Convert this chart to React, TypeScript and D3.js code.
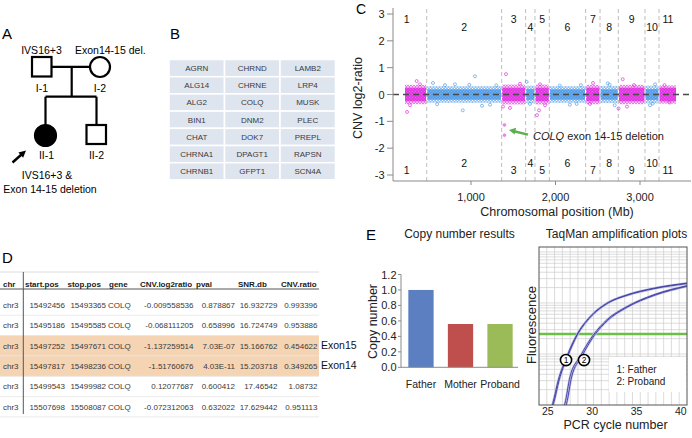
import React from "react";
import * as d3 from "d3";

const FONT = "'Liberation Sans', Arial, Helvetica, sans-serif";

// ---------- Panel A : pedigree ----------
const parentNotes = ["IVS16+3", "Exon14-15 del."];
const pedigreeIds = ["I-1", "I-2", "II-1", "II-2"];
const probandNotes = ["IVS16+3 &", "Exon 14-15 deletion"];

// ---------- Panel B : gene panel ----------
const geneCol1 = ["AGRN", "ALG14", "ALG2", "BIN1", "CHAT", "CHRNA1", "CHRNB1"];
const geneCol2 = ["CHRND", "CHRNE", "COLQ", "DNM2", "DOK7", "DPAGT1", "GFPT1"];
const geneCol3 = ["LAMB2", "LRP4", "MUSK", "PLEC", "PREPL", "RAPSN", "SCN4A"];

// ---------- Panel C : CNV plot ----------
const chromNames = ["1", "2", "3", "4", "5", "6", "7", "8", "9", "10", "11"];
const chromBoundsMb = [0, 476, 1363, 1647, 1757, 1927, 2357, 2527, 2743, 3059, 3225, 3434];
const firstProbeMb = 219;
const coreSpread = [0.25, 0.19, 0.25, 0.2, 0.25, 0.19, 0.25, 0.19, 0.25, 0.2, 0.25];
const outerSpread = [0.36, 0.31, 0.37, 0.33, 0.37, 0.31, 0.36, 0.32, 0.36, 0.33, 0.34];
const outlierMb = [357, 243, 396, 278, 550, 902, 1047, 692, 1225, 811, 1414, 1379, 1580, 1461, 1659, 1698, 1805, 1781, 1876, 1817, 2170, 2300, 2444, 2408, 2618, 2701, 2795, 2746, 2929, 2846, 3118, 3178, 3290, 3349, 600, 980, 1130, 1300, 2050, 2250, 2640, 3150];
const outlierLog2 = [0.5, -0.65, 0.38, -0.4, 0.43, -0.59, 0.68, 0.35, -0.38, 0.38, 0.76, -0.45, 0.4, -0.5, 0.47, -0.35, -0.59, -0.77, -0.4, 0.38, -0.38, 0.35, 0.43, -0.35, 0.42, -0.4, 0.57, -0.52, 0.35, -0.45, -0.4, 0.38, 0.35, -0.3, -0.36, 0.36, -0.42, 0.34, 0.33, -0.35, 0.36, -0.34];
const deletionMb = 1396;
const deletionLog2 = [-1.137, -1.518];
const yTicksC = [-3, -2, -1, 0, 1, 2, 3];
const xTicksC = [1000, 2000, 3000];

// ---------- Panel D : table ----------
const dHeaders = ["chr", "start.pos", "stop.pos", "gene", "CNV.log2ratio", "pval", "SNR.db", "CNV.ratio"];
const dChr = ["chr3", "chr3", "chr3", "chr3", "chr3", "chr3"];
const dStart = ["15492456", "15495186", "15497252", "15497817", "15499543", "15507698"];
const dStop = ["15493365", "15495585", "15497671", "15498236", "15499982", "15508087"];
const dGene = ["COLQ", "COLQ", "COLQ", "COLQ", "COLQ", "COLQ"];
const dLog2 = ["-0.009558536", "-0.068111205", "-1.137259514", "-1.51760676", "0.12077687", "-0.072312063"];
const dPval = ["0.878867", "0.658996", "7.03E-07", "4.03E-11", "0.600412", "0.632022"];
const dSnr = ["16.932729", "16.724749", "15.166762", "15.203718", "17.46542", "17.629442"];
const dRatio = ["0.993396", "0.953886", "0.454622", "0.349265", "1.08732", "0.951113"];
const highlightedRows = [2, 3];
const exonNotes = ["Exon15", "Exon14"];

// ---------- Panel E : copy number + TaqMan ----------
const samples = ["Father", "Mother", "Proband"];
const copyNumbers = [1.0, 0.56, 0.56];
const copyTicks = [0, 0.2, 0.4, 0.6, 0.8, 1.0, 1.2];
const pcrTicks = [25, 30, 35, 40];
const fatherRep1Cycle = [25.3, 25.55, 26.18, 27.13, 28.25, 29.76, 31.64, 33.9, 36.9, 40.7];
const fatherRep1Fluor = [0.0008, 0.00108, 0.0031, 0.00885, 0.0236, 0.0539, 0.0986, 0.1436, 0.194, 0.245];
const fatherRep2Cycle = [25.4, 25.65, 26.28, 27.22, 28.33, 29.84, 31.7, 33.95, 36.95, 40.7];
const fatherRep2Fluor = [0.0008, 0.00108, 0.0031, 0.00885, 0.0236, 0.0535, 0.0975, 0.141, 0.19, 0.24];
const probandRep1Cycle = [26.7, 26.93, 27.5, 28.63, 30.13, 31.64, 33.9, 36.9, 40.7];
const probandRep1Fluor = [0.0008, 0.00108, 0.00359, 0.00885, 0.0236, 0.0464, 0.0845, 0.1436, 0.218];
const probandRep2Cycle = [26.88, 27.12, 27.68, 28.78, 30.25, 31.74, 33.98, 36.97, 40.7];
const probandRep2Fluor = [0.0008, 0.00108, 0.00355, 0.0087, 0.0232, 0.0455, 0.083, 0.14, 0.212];
const thresholdFluor = 0.0246;
const curveMarkers = [
  { label: "1", cycle: 27.05, fluor: 0.0076 },
  { label: "2", cycle: 29.08, fluor: 0.0076 },
];
const taqLegend = ["1: Father", "2: Proband"];

const MAGENTA = "#e02ee0";
const BLUE = "#4f9be6";

export default function App() {
  const xC = d3.scaleLinear().domain([0, 3600]).range([386.5, 386.5 + 3600 * 0.0845]);
  const yC = d3.scaleLinear().domain([-3, 3]).range([175, 14]);
  const axisXC = 393;
  const axisYC = 181;

  const yE = d3.scaleLinear().domain([0, 1.2]).range([367.3, 274.5]);
  const xE = d3.scaleBand<string>().domain(samples).range([402, 519]).paddingInner(0.36).paddingOuter(0.16);
  const barColors = ["#5b7fc0", "#be4f4c", "#9bbb59"];

  const xT = d3.scaleLinear().domain([24, 40.7]).range([539, 687]);
  const yT = d3.scaleLog().domain([0.001, 1.25]).range([405, 247]);
  const gridX = d3.scaleLinear().domain([0, 19]).range([539, 687]);
  const hGrid: number[] = [];
  for (let d = -3; d <= 0; d++) {
    for (let k = 1; k <= 9; k++) {
      const v = k * Math.pow(10, d);
      if (v > 0.001 && v < 1.25) hGrid.push(v);
    }
  }
  const line = d3
    .line<[number, number]>()
    .x((p) => xT(p[0]))
    .y((p) => yT(p[1]))
    .curve(d3.curveMonotoneX);
  const curves = [
    d3.zip(fatherRep1Cycle, fatherRep1Fluor) as [number, number][],
    d3.zip(fatherRep2Cycle, fatherRep2Fluor) as [number, number][],
    d3.zip(probandRep1Cycle, probandRep1Fluor) as [number, number][],
    d3.zip(probandRep2Cycle, probandRep2Fluor) as [number, number][],
  ];

  const bCols = [geneCol1, geneCol2, geneCol3];
  const bLeft = 169, bTop = 59.5, bColW = 55.5, bRowH = 17.2;

  const dCols = [dChr, dStart, dStop, dGene, dLog2, dPval, dSnr, dRatio];
  const dHeadX = [3, 25, 67.5, 109, 140, 196, 238, 281];
  const dValX = [3, 65, 106, 108, 193.5, 235, 277.5, 317.5];
  const dValAnchor = ["start", "end", "end", "start", "end", "end", "end", "end"];
  const dRowY = (i: number) => 305 + i * 20.35;

  const delX = xC(deletionMb);
  const tipX = delX + 4.5;
  const tipY = yC((deletionLog2[0] + deletionLog2[1]) / 2);

  return (
    <svg
      width={692}
      height={438}
      style={{ position: "absolute", left: 0, top: 0, background: "#fff" }}
      fontFamily={FONT}
    >
      <defs>
        <pattern id="dotM" width="3" height="3" patternUnits="userSpaceOnUse">
          <circle cx="1.5" cy="1.5" r="1.1" fill="none" stroke={MAGENTA} strokeWidth="0.8" />
        </pattern>
        <pattern id="dotB" width="3" height="3" patternUnits="userSpaceOnUse">
          <circle cx="1.5" cy="1.5" r="1.1" fill="none" stroke={BLUE} strokeWidth="0.8" />
        </pattern>
        <clipPath id="taqClip">
          <rect x={539} y={247} width={148} height={158} />
        </clipPath>
      </defs>

      {/* ================= A ================= */}
      <text x={2} y={39} fontSize={15}>A</text>
      <text x={41.5} y={54} fontSize={10.5} textAnchor="middle">{parentNotes[0]}</text>
      <text x={75} y={54} fontSize={10.5}>{parentNotes[1]}</text>
      <g stroke="#000" strokeWidth={2.2} fill="none">
        <line x1={51.5} y1={66.8} x2={90} y2={66.8} />
        <line x1={71.7} y1={66.8} x2={71.7} y2={96.7} />
        <line x1={45.5} y1={96.7} x2={96.5} y2={96.7} />
        <line x1={45.5} y1={96.7} x2={45.5} y2={125} />
        <line x1={96.5} y1={96.7} x2={96.5} y2={125} />
        <rect x={32} y={57} width={19.5} height={19.5} fill="#fff" />
        <circle cx={100} cy={67} r={10} fill="#fff" />
        <circle cx={45.5} cy={135.5} r={10.5} fill="#000" />
        <rect x={86.5} y={125} width={19.5} height={19} fill="#fff" />
      </g>
      <text x={42} y={92} fontSize={10.5} textAnchor="middle">{pedigreeIds[0]}</text>
      <text x={100} y={92} fontSize={10.5} textAnchor="middle">{pedigreeIds[1]}</text>
      <text x={46.5} y={159} fontSize={10.5} textAnchor="middle">{pedigreeIds[2]}</text>
      <text x={96.5} y={159} fontSize={10.5} textAnchor="middle">{pedigreeIds[3]}</text>
      <line x1={12.5} y1={162.5} x2={21.5} y2={154.5} stroke="#000" strokeWidth={2.5} />
      <polygon points="26,150.5 23.1,157.8 18.4,152.5" fill="#000" />
      <text x={47} y={179} fontSize={10.5} textAnchor="middle">{probandNotes[0]}</text>
      <text x={50} y={193} fontSize={10.5} textAnchor="middle">{probandNotes[1]}</text>

      {/* ================= B ================= */}
      <text x={170} y={39} fontSize={15}>B</text>
      {bCols.map((col, ci) =>
        col.map((g, ri) => (
          <g key={`b${ci}-${ri}`}>
            <rect
              x={bLeft + ci * bColW}
              y={bTop + ri * bRowH}
              width={bColW}
              height={bRowH}
              fill="#dfe5ee"
              stroke="#fff"
              strokeWidth={1.5}
            />
            <text
              x={bLeft + ci * bColW + bColW / 2}
              y={bTop + ri * bRowH + bRowH / 2 + 2.9}
              fontSize={8}
              fill="#3a3a3a"
              textAnchor="middle"
            >
              {g}
            </text>
          </g>
        ))
      )}

      {/* ================= C ================= */}
      <text x={356} y={13.5} fontSize={14}>C</text>
      {chromBoundsMb.slice(1, chromBoundsMb.length - 1).map((b, i) => (
        <line key={`sep${i}`} x1={xC(b)} x2={xC(b)} y1={9} y2={axisYC} stroke="#bdbdbd" strokeDasharray="4,3" strokeWidth={1} />
      ))}
      {chromNames.map((c, i) => {
        const x0 = xC(i === 0 ? firstProbeMb : chromBoundsMb[i] + 8);
        const x1 = xC(chromBoundsMb[i + 1] - 8);
        const col = i % 2 === 0 ? MAGENTA : BLUE;
        const pat = i % 2 === 0 ? "url(#dotM)" : "url(#dotB)";
        return (
          <g key={`band${c}`}>
            <rect x={x0} y={yC(outerSpread[i])} width={x1 - x0} height={yC(-outerSpread[i]) - yC(outerSpread[i])} fill={pat} />
            <rect x={x0} y={yC(coreSpread[i])} width={x1 - x0} height={yC(-coreSpread[i]) - yC(coreSpread[i])} fill={col} opacity={0.75} />
            <rect x={x0} y={yC(coreSpread[i])} width={x1 - x0} height={yC(-coreSpread[i]) - yC(coreSpread[i])} fill={pat} />
          </g>
        );
      })}
      {outlierMb.map((m, i) => {
        const ci = d3.bisectRight(chromBoundsMb, m) - 1;
        const col = ci % 2 === 0 ? MAGENTA : BLUE;
        return <circle key={`o${i}`} cx={xC(m)} cy={yC(outlierLog2[i])} r={1.5} fill="none" stroke={col} strokeWidth={0.8} opacity={0.85} />;
      })}
      {deletionLog2.map((v, i) => (
        <circle key={`del${i}`} cx={delX} cy={yC(v)} r={1.4} fill="#e88ae8" stroke="#e070e0" strokeWidth={0.6} />
      ))}
      <line x1={axisXC} x2={692} y1={yC(0)} y2={yC(0)} stroke="#4a4a4a" strokeWidth={1.5} strokeDasharray="6,4" />
      {chromNames.map((c, i) => {
        const mx = xC((chromBoundsMb[i] + chromBoundsMb[i + 1]) / 2);
        const odd = i % 2 === 0;
        return (
          <g key={`cl${c}`} fontSize={10.5} textAnchor="middle" fill="#111">
            <text x={mx} y={odd ? 22.5 : 31}>{c}</text>
            <text x={mx} y={odd ? 174 : 166.5}>{c}</text>
          </g>
        );
      })}
      <line x1={axisXC} x2={axisXC} y1={8} y2={axisYC} stroke="#8a8a8a" strokeWidth={1} />
      <line x1={axisXC} x2={691} y1={axisYC} y2={axisYC} stroke="#8a8a8a" strokeWidth={1} />
      {yTicksC.map((t) => (
        <g key={`yc${t}`}>
          <line x1={axisXC - 6} x2={axisXC} y1={yC(t)} y2={yC(t)} stroke="#8a8a8a" />
          <text x={axisXC - 8.5} y={yC(t) + 4} fontSize={11} textAnchor="end" fill="#222">{t}</text>
        </g>
      ))}
      {xTicksC.map((t) => (
        <g key={`xc${t}`}>
          <line x1={xC(t)} x2={xC(t)} y1={axisYC} y2={axisYC + 4} stroke="#8a8a8a" />
          <text x={xC(t)} y={201} fontSize={11} textAnchor="middle" fill="#222">{d3.format(",")(t)}</text>
        </g>
      ))}
      <text transform={`translate(362,98) rotate(-90)`} fontSize={12.5} textAnchor="middle" fill="#222">CNV log2-ratio</text>
      <text x={557} y={216} fontSize={12.5} textAnchor="middle" fill="#222">Chromosomal position (Mb)</text>
      <line x1={tipX + 19} y1={tipY + 4.5} x2={tipX + 5} y2={tipY + 1.2} stroke="#5cb04e" strokeWidth={2.5} />
      <polygon
        points={`${tipX},${tipY} ${tipX + 7.2},${tipY - 2.3} ${tipX + 5.6},${tipY + 4.5}`}
        fill="#5cb04e"
      />
      <text x={533} y={140} fontSize={11} fill="#222">
        <tspan fontStyle="italic">COLQ</tspan> exon 14-15 deletion
      </text>

      {/* ================= D ================= */}
      <text x={2} y={263} fontSize={15}>D</text>
      {highlightedRows.map((r) => (
        <rect key={`hl${r}`} x={0} y={dRowY(r) - 10.2} width={319} height={20.35} fill="#f5d4b4" />
      ))}
      <line x1={0} x2={319} y1={272} y2={272} stroke="#dcdcdc" />
      {dChr.map((_, i) => (
        <line key={`rl${i}`} x1={0} x2={319} y1={dRowY(i) + 10.2} y2={dRowY(i) + 10.2} stroke="#e6e6e6" strokeWidth={0.8} />
      ))}
      <line x1={0} x2={319} y1={289} y2={289} stroke="#555" strokeWidth={1} />
      <line x1={23.3} x2={23.3} y1={272} y2={414} stroke="#555" strokeWidth={1} />
      {dHeaders.map((h, i) => (
        <text key={`h${h}`} x={dHeadX[i]} y={287} fontSize={8} fontWeight="bold" fill="#1a1a1a">{h}</text>
      ))}
      {dCols.map((col, ci) =>
        col.map((v, ri) => (
          <text
            key={`d${ci}-${ri}`}
            x={dValX[ci]}
            y={dRowY(ri) + 3}
            fontSize={8}
            fill="#3a3a3a"
            textAnchor={dValAnchor[ci] as any}
          >
            {v}
          </text>
        ))
      )}
      {exonNotes.map((t, i) => (
        <text key={t} x={321} y={dRowY(highlightedRows[i]) + 3} fontSize={10.5} fill="#111">{t}</text>
      ))}

      {/* ================= E ================= */}
      <text x={366} y={240} fontSize={15}>E</text>
      <text x={459.5} y={238} fontSize={12} textAnchor="middle" fill="#222">Copy number results</text>
      <text x={616.5} y={238} fontSize={12} textAnchor="middle" fill="#222">TaqMan amplification plots</text>
      {samples.map((s, i) => (
        <rect key={`bar${s}`} x={xE(s)!} y={yE(copyNumbers[i])} width={xE.bandwidth()} height={yE(0) - yE(copyNumbers[i])} fill={barColors[i]} />
      ))}
      <line x1={401} x2={401} y1={yE(1.2)} y2={yE(0)} stroke="#8a8a8a" />
      <line x1={401} x2={518} y1={yE(0)} y2={yE(0)} stroke="#8a8a8a" />
      {copyTicks.map((t) => (
        <g key={`ye${t}`}>
          <line x1={398} x2={401} y1={yE(t)} y2={yE(t)} stroke="#8a8a8a" />
          <text x={396.5} y={yE(t) + 4} fontSize={11} textAnchor="end" fill="#222">{t.toFixed(1)}</text>
        </g>
      ))}
      {samples.map((s) => (
        <text key={`xl${s}`} x={xE(s)! + xE.bandwidth() / 2} y={387.5} fontSize={10.5} textAnchor="middle" fill="#222">{s}</text>
      ))}
      <text transform="translate(377,321.5) rotate(-90)" fontSize={12.5} textAnchor="middle" fill="#222">Copy number</text>

      <rect x={539} y={247} width={148} height={158} fill="#fff" />
      <g stroke="#cdcdcd" strokeWidth={0.7}>
        {d3.range(1, 19).map((k) => (
          <line key={`vg${k}`} x1={gridX(k)} x2={gridX(k)} y1={247} y2={405} />
        ))}
        {hGrid.map((v, k) => (
          <line key={`hg${k}`} x1={539} x2={687} y1={yT(v)} y2={yT(v)} />
        ))}
      </g>
      <g clipPath="url(#taqClip)">
        <line x1={539} x2={687} y1={yT(thresholdFluor)} y2={yT(thresholdFluor)} stroke="#6cbf45" strokeWidth={2.5} />
        {curves.map((c, i) => (
          <path key={`cw${i}`} d={line(c)!} fill="none" stroke="#c4c4ea" strokeWidth={2.2} />
        ))}
        {curves.map((c, i) => (
          <path key={`cd${i}`} d={line(c)!} fill="none" stroke="#3b3b9e" strokeWidth={0.9} />
        ))}
      </g>
      {curveMarkers.map((m) => (
        <g key={`m${m.label}`}>
          <circle cx={xT(m.cycle)} cy={yT(m.fluor)} r={5.6} fill="#fff" stroke="#000" strokeWidth={1.6} />
          <text x={xT(m.cycle)} y={yT(m.fluor) + 3} fontSize={8.5} textAnchor="middle" fill="#000">{m.label}</text>
        </g>
      ))}
      <rect x={609} y={357} width={77} height={35} fill="#fff" />
      {taqLegend.map((t, i) => (
        <text key={t} x={616.5} y={372.5 + i * 12.7} fontSize={10} fill="#222">{t}</text>
      ))}
      <rect x={539} y={247} width={148} height={158} fill="none" stroke="#555" strokeWidth={1} />
      {pcrTicks.map((t) => (
        <text key={`pt${t}`} x={xT(t)} y={414.5} fontSize={10.5} textAnchor="middle" fill="#222">{t}</text>
      ))}
      <text x={615.5} y={428.5} fontSize={12.5} textAnchor="middle" fill="#222">PCR cycle number</text>
      <text transform="translate(535.5,325) rotate(-90)" fontSize={13} textAnchor="middle" fill="#222">Fluorescence</text>
    </svg>
  );
}
